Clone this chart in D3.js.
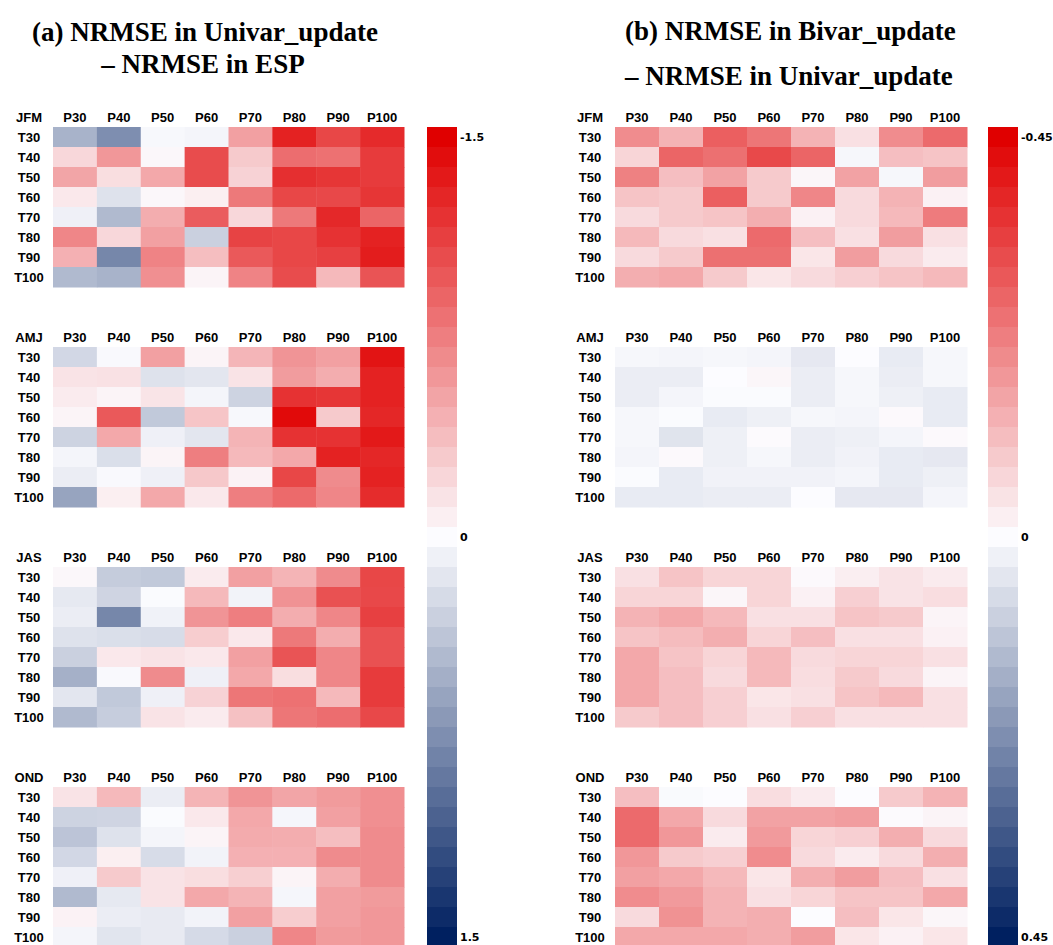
<!DOCTYPE html>
<html>
<head>
<meta charset="utf-8">
<script src="https://cdn.jsdelivr.net/npm/d3@7"></script>
<style>
  body { margin: 0; background: #fff; }
  .title { font-family: 'Liberation Serif', serif; font-weight: bold; font-size: 27px; fill: #000; }
  .lab { font-family: 'Liberation Sans', Arial, sans-serif; font-weight: bold; font-size: 13px; fill: #000; }
  .barlab { font-family: 'DejaVu Sans', sans-serif; font-weight: bold; font-size: 11px; fill: #000; }
</style>
</head>
<body>
<script>
var w = 1053;
var h = 945;

var seasons = ['JFM', 'AMJ', 'JAS', 'OND'];
var precip = ['P30', 'P40', 'P50', 'P60', 'P70', 'P80', 'P90', 'P100'];
var temps = ['T30', 'T40', 'T50', 'T60', 'T70', 'T80', 'T90', 'T100'];

// (a) NRMSE Univar_update - NRMSE ESP, rows T30..T100, cols P30..P100
var aJFM = [
  [0.50, 0.75, 0.03, 0.05, -0.55, -1.30, -1.08, -1.25],
  [-0.22, -0.60, -0.03, -1.05, -0.30, -0.85, -0.83, -1.15],
  [-0.52, -0.18, -0.50, -1.05, -0.25, -1.22, -1.18, -1.15],
  [-0.12, 0.18, -0.03, -0.08, -0.78, -1.08, -1.07, -1.18],
  [0.08, 0.45, -0.47, -0.95, -0.22, -0.78, -1.26, -0.90],
  [-0.70, -0.22, -0.55, 0.30, -1.10, -1.08, -1.20, -1.30],
  [-0.45, 0.80, -0.72, -0.37, -0.97, -1.08, -1.12, -1.33],
  [0.45, 0.50, -0.65, -0.05, -0.72, -1.05, -0.40, -1.00]
];
var aAMJ = [
  [0.25, 0.02, -0.55, -0.05, -0.42, -0.62, -0.55, -1.38],
  [-0.15, -0.16, 0.18, 0.15, -0.15, -0.57, -0.47, -1.30],
  [-0.10, -0.05, -0.14, 0.05, 0.28, -1.20, -1.18, -1.30],
  [-0.05, -0.97, 0.35, -0.33, 0.03, -1.44, -0.30, -1.27],
  [0.28, -0.50, 0.08, 0.15, -0.43, -1.20, -1.20, -1.35],
  [0.05, 0.20, -0.05, -0.75, -0.40, -0.50, -1.30, -1.27],
  [0.10, 0.02, 0.08, -0.31, -0.06, -1.08, -0.67, -1.30],
  [0.60, -0.08, -0.50, -0.12, -0.75, -0.87, -0.70, -1.24]
];
var aJAS = [
  [-0.03, 0.33, 0.35, -0.10, -0.55, -0.43, -0.67, -1.08],
  [0.13, 0.27, 0.01, -0.40, 0.06, -0.63, -1.02, -1.07],
  [0.10, 0.80, 0.07, -0.62, -0.75, -0.47, -0.70, -1.12],
  [0.18, 0.20, 0.22, -0.28, -0.12, -0.78, -0.47, -1.02],
  [0.30, -0.12, -0.15, -0.12, -0.55, -1.00, -0.70, -1.02],
  [0.52, 0.02, -0.67, 0.08, -0.50, -0.18, -0.70, -1.15],
  [0.15, 0.35, 0.08, -0.25, -0.80, -0.83, -0.40, -1.15],
  [0.45, 0.32, -0.15, -0.10, -0.35, -0.80, -0.85, -1.07]
];
var aOND = [
  [-0.15, -0.40, 0.10, -0.43, -0.62, -0.52, -0.58, -0.65],
  [0.28, 0.27, 0.01, -0.12, -0.50, 0.04, -0.55, -0.65],
  [0.38, 0.18, 0.05, -0.05, -0.48, -0.47, -0.37, -0.67],
  [0.25, -0.08, 0.22, 0.06, -0.45, -0.45, -0.67, -0.67],
  [0.08, -0.30, -0.15, -0.18, -0.27, -0.05, -0.47, -0.67],
  [0.45, 0.13, -0.15, -0.50, -0.43, 0.04, -0.55, -0.58],
  [-0.06, 0.10, 0.12, 0.06, -0.55, -0.28, -0.55, -0.60],
  [0.05, 0.16, 0.12, 0.23, 0.30, -0.70, -0.58, -0.60]
];

// (b) NRMSE Bivar_update - NRMSE Univar_update
var bJFM = [
  [-0.20, -0.13, -0.28, -0.24, -0.13, -0.05, -0.20, -0.26],
  [-0.07, -0.27, -0.25, -0.32, -0.27, 0.01, -0.11, -0.10],
  [-0.22, -0.11, -0.16, -0.09, -0.01, -0.16, 0.01, -0.17],
  [-0.10, -0.09, -0.28, -0.09, -0.21, -0.06, -0.13, -0.02],
  [-0.06, -0.09, -0.10, -0.14, -0.02, -0.06, -0.12, -0.23],
  [-0.12, -0.06, -0.05, -0.26, -0.11, -0.05, -0.17, -0.05],
  [-0.06, -0.09, -0.25, -0.25, -0.04, -0.17, -0.06, -0.03],
  [-0.14, -0.15, -0.09, -0.04, -0.06, -0.08, -0.10, -0.12]
];
var bAMJ = [
  [0.010, 0.015, 0.010, 0.015, 0.040, 0.000, 0.035, 0.010],
  [0.030, 0.030, 0.000, -0.010, 0.030, 0.010, 0.030, 0.010],
  [0.030, 0.015, 0.003, 0.003, 0.030, 0.010, 0.025, 0.035],
  [0.010, 0.003, 0.035, 0.025, 0.010, 0.015, -0.005, 0.035],
  [0.010, 0.050, 0.025, -0.003, 0.030, 0.025, 0.015, -0.005],
  [0.015, -0.005, 0.025, 0.010, 0.030, 0.020, 0.035, 0.040],
  [0.003, 0.035, 0.020, 0.020, 0.020, 0.015, 0.035, 0.025],
  [0.035, 0.035, 0.030, 0.030, 0.000, 0.040, 0.040, 0.015]
];
var bJAS = [
  [-0.050, -0.100, -0.070, -0.070, -0.005, -0.025, -0.045, -0.030],
  [-0.070, -0.070, -0.010, -0.070, -0.020, -0.080, -0.045, -0.055],
  [-0.130, -0.150, -0.120, -0.050, -0.050, -0.100, -0.090, -0.015],
  [-0.100, -0.115, -0.140, -0.070, -0.110, -0.050, -0.050, -0.020],
  [-0.150, -0.100, -0.070, -0.120, -0.060, -0.070, -0.070, -0.050],
  [-0.150, -0.110, -0.060, -0.120, -0.055, -0.090, -0.060, -0.015],
  [-0.150, -0.110, -0.080, -0.040, -0.050, -0.100, -0.120, -0.050],
  [-0.090, -0.110, -0.080, -0.050, -0.080, -0.050, -0.050, -0.050]
];
var bOND = [
  [-0.110, 0.005, 0.000, -0.055, -0.030, 0.000, -0.090, -0.130],
  [-0.260, -0.150, -0.060, -0.160, -0.160, -0.170, -0.003, -0.015],
  [-0.260, -0.180, -0.030, -0.175, -0.070, -0.080, -0.140, -0.060],
  [-0.180, -0.090, -0.080, -0.200, -0.060, -0.030, -0.060, -0.140],
  [-0.165, -0.150, -0.120, -0.040, -0.140, -0.170, -0.110, -0.050],
  [-0.200, -0.175, -0.130, -0.050, -0.070, -0.100, -0.100, -0.150],
  [-0.060, -0.190, -0.130, -0.140, 0.000, -0.110, -0.040, -0.010],
  [-0.150, -0.150, -0.150, -0.140, -0.170, -0.040, -0.020, -0.040]
];

var aTicks = ['-1.5', '0', '1.5'];
var bTicks = ['-0.45', '0', '0.45'];

var svg = d3.select('body').append('svg')
            .attr('width', w)
            .attr('height', h)
            .style('display', 'block');

// each season block: header row + 8 rows of 20px, 40px gap
var blockY = d3.scaleBand()
               .domain(seasons)
               .range([107, 947])
               .paddingInner(40 / 220);
var y = d3.scaleBand()
          .domain(temps)
          .range([20, 180]);

function plotPanel(params){
  var x = d3.scaleBand()
            .domain(precip)
            .range(params.cells);
  var color = d3.scaleLinear()
                .domain([-params.max, 0, params.max])
                .range(['#e00000', '#fcfcff', '#002060'])
                .interpolate(d3.interpolateRgb)
                .clamp(true);

  var blocks = this.selectAll('.block')
      .data(params.data)
      .enter()
        .append('g')
        .classed('block', true)
        .attr('transform', function(d, i){
          return 'translate(0,' + blockY(seasons[i]) + ')';
        });

  // header row
  blocks.append('text')
      .classed('lab', true)
      .attr('x', params.labelX)
      .attr('y', 10)
      .attr('dy', '0.35em')
      .attr('text-anchor', 'middle')
      .text(function(d, i){ return seasons[i]; });
  blocks.selectAll('.colLab')
      .data(precip)
      .enter()
        .append('text')
        .classed('lab colLab', true)
        .attr('x', function(d){ return x(d) + x.bandwidth() / 2; })
        .attr('y', 10)
        .attr('dy', '0.35em')
        .attr('text-anchor', 'middle')
        .text(function(d){ return d; });
  blocks.selectAll('.rowLab')
      .data(temps)
      .enter()
        .append('text')
        .classed('lab rowLab', true)
        .attr('x', params.labelX)
        .attr('y', function(d){ return y(d) + y.bandwidth() / 2; })
        .attr('dy', '0.35em')
        .attr('text-anchor', 'middle')
        .text(function(d){ return d; });

  // cells
  blocks.selectAll('.row')
      .data(function(d){ return d; })
      .enter()
        .append('g')
        .classed('row', true)
        .attr('transform', function(d, i){
          return 'translate(0,' + y(temps[i]) + ')';
        })
      .selectAll('rect')
      .data(function(d){ return d; })
      .enter()
        .append('rect')
        .attr('x', function(d, j){ return x(precip[j]); })
        .attr('y', 0)
        .attr('width', x.bandwidth() + 0.5)
        .attr('height', y.bandwidth() + 0.5)
        .attr('fill', function(d){ return color(d); });

  // colour bar, one 20px step per cell like the sheet
  var steps = d3.range(0, 41).map(function(i){
    return -params.max + i * params.max / 20;
  });
  var barY = d3.scaleBand()
               .domain(d3.range(0, 41))
               .range([127, 947]);
  this.selectAll('.step')
      .data(steps)
      .enter()
        .append('rect')
        .classed('step', true)
        .attr('x', params.bar)
        .attr('y', function(d, i){ return barY(i); })
        .attr('width', 30)
        .attr('height', barY.bandwidth() + 0.5)
        .attr('fill', function(d){ return color(d); });
  this.selectAll('.barlab')
      .data(params.ticks)
      .enter()
        .append('text')
        .classed('barlab', true)
        .attr('x', params.bar + 33)
        .attr('y', function(d, i){ return barY(i * 20) + 10; })
        .attr('dy', '0.35em')
        .text(function(d){ return d; });
}

var panelA = svg.append('g').attr('id', 'panelA');
var panelB = svg.append('g').attr('id', 'panelB');

plotPanel.call(panelA, {
  data: [aJFM, aAMJ, aJAS, aOND],
  cells: [53, 404],
  labelX: 29,
  bar: 427,
  max: 1.5,
  ticks: aTicks
});
plotPanel.call(panelB, {
  data: [bJFM, bAMJ, bJAS, bOND],
  cells: [615, 967],
  labelX: 590,
  bar: 988,
  max: 0.45,
  ticks: bTicks
});

//titles
svg.append('text')
    .classed('title', true)
    .attr('x', 205)
    .attr('y', 41)
    .attr('text-anchor', 'middle')
    .text('(a) NRMSE in Univar_update');
svg.append('text')
    .classed('title', true)
    .attr('x', 203)
    .attr('y', 73)
    .attr('text-anchor', 'middle')
    .text('\u2013 NRMSE in ESP');
svg.append('text')
    .classed('title', true)
    .attr('x', 625)
    .attr('y', 40)
    .text('(b) NRMSE in Bivar_update');
svg.append('text')
    .classed('title', true)
    .attr('x', 625)
    .attr('y', 85)
    .text('\u2013 NRMSE in Univar_update');
</script>
</body>
</html>
